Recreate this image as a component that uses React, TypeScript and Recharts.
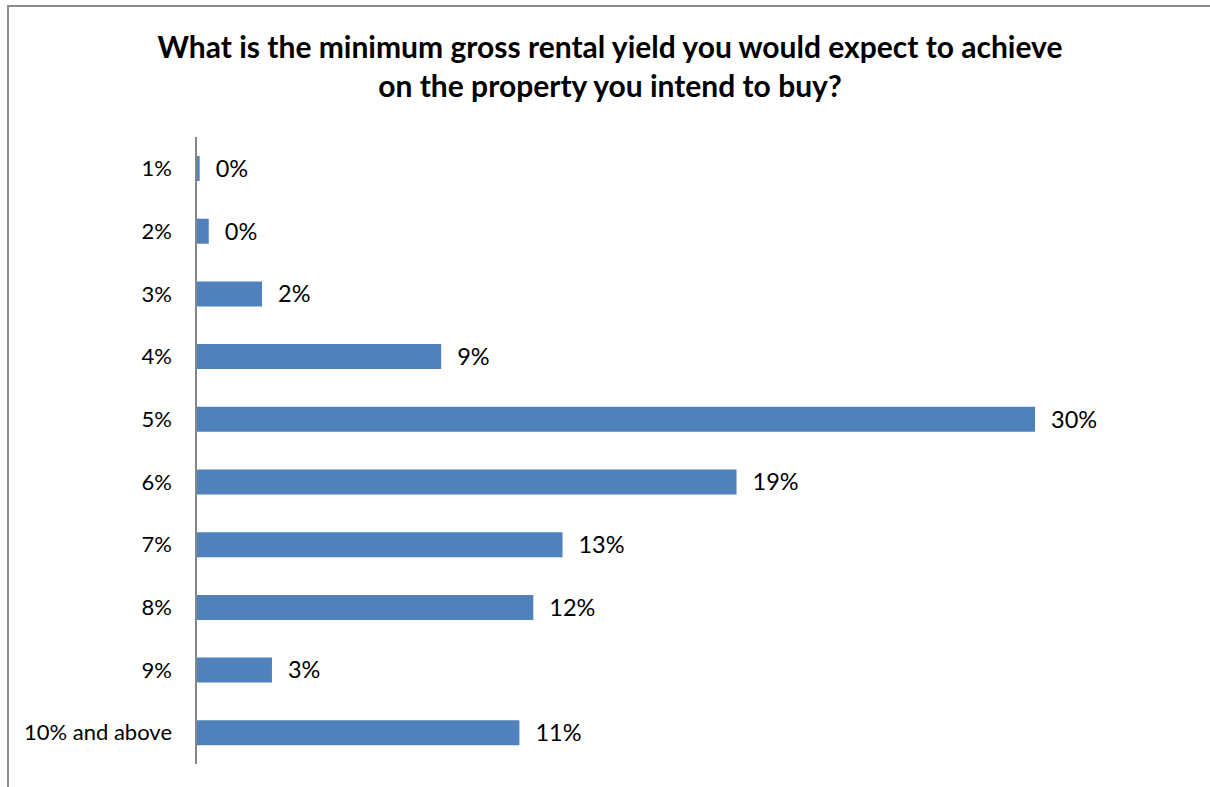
import React from "react";
import { BarChart, Bar, XAxis, YAxis, LabelList } from "recharts";

const categories = ["1%", "2%", "3%", "4%", "5%", "6%", "7%", "8%", "9%", "10% and above"];
const shares = [0.13, 0.45, 2.33, 8.65, 29.6, 19.07, 12.93, 11.9, 2.68, 11.41];
const titleLines = [
  "What is the minimum gross rental yield you would expect to achieve",
  "on the property you intend to buy?",
];

const data = categories.map((c, i) => ({ name: c, value: shares[i] }));
const FONT = "Lato, 'Open Sans', sans-serif";

export default function App() {
  return (
    <div style={{ position: "absolute", left: 0, top: 0, width: 1210, height: 787, background: "#fff", overflow: "hidden", fontFamily: FONT }}>
      <div style={{ position: "absolute", left: 7, top: 5, width: 1300, height: 900, border: "2px solid #8c8c8c", boxSizing: "border-box" }} />
      <div style={{ position: "absolute", left: 0, top: 27, width: 1220, textAlign: "center", fontWeight: 700, fontSize: 30, lineHeight: "39px", color: "#000" }}>
        {titleLines.map((t, i) => (
          <div key={i}>{t}</div>
        ))}
      </div>
      <div style={{ position: "absolute", left: 0, top: 0 }}>
        <BarChart
          width={1210}
          height={787}
          data={data}
          layout="vertical"
          margin={{ top: 137, right: 175, bottom: 23, left: 8 }}
        >
          <XAxis type="number" hide domain={[0, "dataMax"]} />
          <YAxis
            type="category"
            dataKey="name"
            width={188}
            tickLine={false}
            tickSize={0}
            tickMargin={24}
            axisLine={{ stroke: "#868686", strokeWidth: 2 }}
            tick={{ fill: "#000", fontSize: 22, fontFamily: FONT }}
            interval={0}
          />
          <Bar dataKey="value" fill="#4f81bd" barSize={25} isAnimationActive={false}>
            <LabelList
              dataKey="value"
              position="right"
              offset={16}
              formatter={(v: number) => `${Math.round(v)}%`}
              style={{ fill: "#000", fontSize: 23.5, fontFamily: FONT }}
            />
          </Bar>
        </BarChart>
      </div>
    </div>
  );
}
